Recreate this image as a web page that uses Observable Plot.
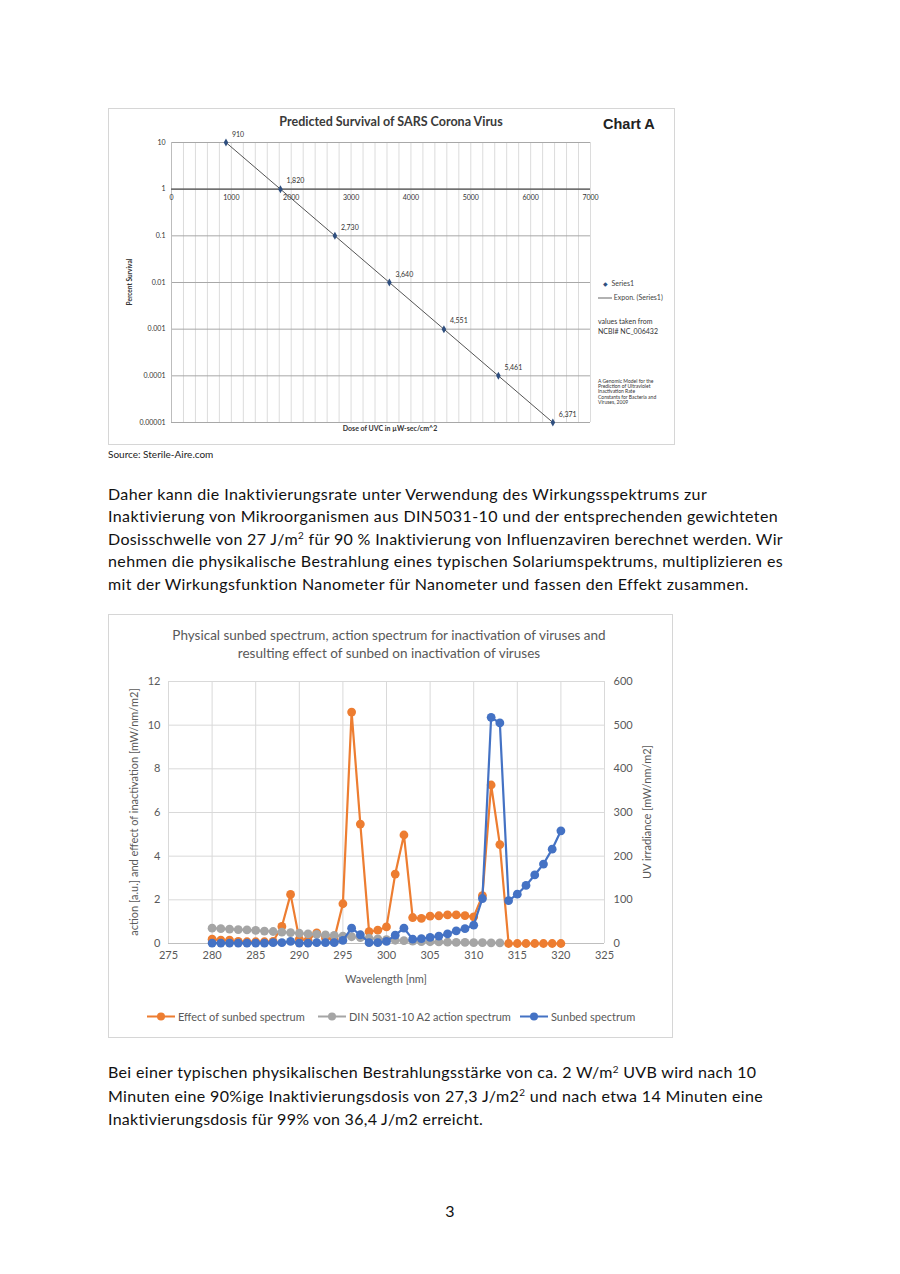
<!DOCTYPE html>
<html><head><meta charset="utf-8">
<script src="https://cdn.jsdelivr.net/npm/d3@7"></script>
<script src="https://cdn.jsdelivr.net/npm/@observablehq/plot@0.6"></script>
<style>
html,body{margin:0;padding:0;background:#fff;}
body{width:900px;height:1274px;position:relative;overflow:hidden;font-family:Lato,"Open Sans",sans-serif;}
.abs{position:absolute;white-space:nowrap;line-height:1;}
.c{transform:translate(-50%,-50%);}
.l{transform:translateY(-50%);}
.rot{transform:translate(-50%,-50%) rotate(-90deg);}
.para{position:absolute;left:108px;font-size:16px;color:#111;white-space:nowrap;}
.para .ln{display:block;}
.para .ln span{display:inline-block;}
.para sup{font-size:0.62em;vertical-align:0;position:relative;top:-0.55em;line-height:0;}
.frame{position:absolute;border:1px solid #d6d6d6;box-sizing:border-box;}
svg{display:block;}
</style></head>
<body>
<div id="frameA" class="frame" style="left:108px;top:108px;width:567px;height:337px;"></div>
<div id="chartA" class="abs" style="left:108px;top:108px;"></div>
<div class="abs c" style="left:391px;top:122px;font-weight:700;font-size:12.5px;color:#3a3a3a;">Predicted Survival of SARS Corona Virus</div>
<div class="abs l" style="left:603px;top:124px;font-family:'Liberation Sans',Arial,sans-serif;font-weight:700;font-size:14.5px;color:#222;">Chart A</div>
<div class="abs rot" style="left:130px;top:282px;font-weight:700;font-size:6.5px;color:#333;">Percent Survival</div>
<div class="abs c" style="left:390px;top:428px;font-weight:700;font-size:7px;color:#333;">Dose of UVC in µW-sec/cm^2</div>
<div class="abs l" style="left:603px;top:283px;font-size:7px;color:#444;"><span style="color:#2f4f7f;font-size:6px;">◆</span>&nbsp; Series1</div>
<div class="abs l" style="left:598px;top:297px;font-size:7px;color:#444;"><span style="display:inline-block;width:14px;height:1px;background:#666;vertical-align:middle;"></span> Expon. (Series1)</div>
<div class="abs" style="left:598px;top:316px;font-size:7px;line-height:10px;color:#333;">values taken from<br>NCBI# NC_006432</div>
<div class="abs" style="left:598px;top:379px;font-size:5px;line-height:5.2px;color:#333;">A Genomic Model for the<br>Prediction of Ultraviolet<br>Inactivation Rate<br>Constants for Bacteria and<br>Viruses, 2009</div>
<div class="abs l" style="left:108px;top:454px;font-size:10px;color:#222;">Source: Sterile-Aire.com</div>

<div class="para" style="top:483px;line-height:22.4px;">
<div class="ln" data-w="599"><span>Daher kann die Inaktivierungsrate unter Verwendung des Wirkungsspektrums zur</span></div>
<div class="ln" data-w="670"><span>Inaktivierung von Mikroorganismen aus DIN5031-10 und der entsprechenden gewichteten</span></div>
<div class="ln" data-w="675"><span>Dosisschwelle von 27 J/m<sup>2</sup> für 90 % Inaktivierung von Influenzaviren berechnet werden. Wir</span></div>
<div class="ln" data-w="675"><span>nehmen die physikalische Bestrahlung eines typischen Solariumspektrums, multiplizieren es</span></div>
<div class="ln" data-w="640"><span>mit der Wirkungsfunktion Nanometer für Nanometer und fassen den Effekt zusammen.</span></div>
</div>

<div class="frame" style="left:108px;top:614px;width:565px;height:424px;"></div>
<div class="abs c" style="left:389px;top:644px;font-size:13.5px;line-height:18px;color:#595959;text-align:center;">Physical sunbed spectrum, action spectrum for inactivation of viruses and<br>resulting effect of sunbed on inactivation of viruses</div>
<div id="chartB" class="abs" style="left:108px;top:665px;"></div>
<div class="abs rot" style="left:133px;top:812px;font-size:11px;color:#595959;">action [a.u.] and effect of inactivation [mW/nm/m2]</div>
<div class="abs rot" style="left:646px;top:812px;font-size:11px;color:#595959;">UV irradiance [mW/nm/m2]</div>
<div class="abs c" style="left:386px;top:978px;font-size:11px;color:#595959;">Wavelength [nm]</div>
<div id="legendB"></div>

<div class="para" style="top:1060px;line-height:23.5px;">
<div class="ln" data-w="648"><span>Bei einer typischen physikalischen Bestrahlungsstärke von ca. 2 W/m<sup>2</sup> UVB wird nach 10</span></div>
<div class="ln" data-w="655"><span>Minuten eine 90%ige Inaktivierungsdosis von 27,3 J/m2<sup>2</sup> und nach etwa 14 Minuten eine</span></div>
<div class="ln" data-w="375"><span>Inaktivierungsdosis für 99% von 36,4 J/m2 erreicht.</span></div>
</div>
<div class="abs c" style="left:450px;top:1211px;font-size:16px;color:#111;">3</div>

<script>
// ---------- Chart A data ----------
const doses = [910, 1820, 2730, 3640, 4551, 5461, 6371];
const survival = [10, 1, 0.1, 0.01, 0.001, 0.0001, 0.00001];
const doseLabels = ["910", "1,820", "2,730", "3,640", "4,551", "5,461", "6,371"];
const doseTicks = [0, 1000, 2000, 3000, 4000, 5000, 6000, 7000];
const survivalTicks = [10, 1, 0.1, 0.01, 0.001, 0.0001, 0.00001];
const survivalTickLabels = ["10", "1", "0.1", "0.01", "0.001", "0.0001", "0.00001"];

// ---------- Chart B data ----------
const wavelengths = [280,281,282,283,284,285,286,287,288,289,290,291,292,293,294,295,296,297,298,299,300,301,302,303,304,305,306,307,308,309,310,311,312,313,314,315,316,317,318,319,320];
const effectOfSunbed = [0.2,0.15,0.15,0.1,0.08,0.08,0.08,0.1,0.78,2.25,0.2,0.15,0.49,0.25,0.2,1.82,10.6,5.47,0.54,0.61,0.76,3.18,4.97,1.19,1.15,1.25,1.27,1.31,1.31,1.28,1.22,2.19,7.26,4.53,0,0,0,0,0,0,0];
const dinActionSpectrum = [0.70,0.68,0.66,0.64,0.62,0.60,0.57,0.55,0.52,0.50,0.47,0.44,0.42,0.39,0.37,0.34,0.31,0.27,0.24,0.21,0.18,0.15,0.13,0.11,0.09,0.08,0.07,0.06,0.05,0.05,0.04,0.04,0.03,0.03];
const sunbedSpectrum = [1,1,1,1,1,1,1,2,2,5,1,1,2,2,2,7,35,20,2,2,5,19,35,10,11,14,17,22,29,34,42,103,518,505,98,113,133,157,182,216,258];
const wavelengthTicks = [275,280,285,290,295,300,305,310,315,320,325];
const leftTicks = [0,2,4,6,8,10,12];
const rightAxisMax = 600, leftAxisMax = 12;
const seriesNames = ["Effect of sunbed spectrum", "DIN 5031-10 A2 action spectrum", "Sunbed spectrum"];
const seriesColors = ["#ED7D31", "#A5A5A5", "#4472C4"];

// fit paragraph lines to the widths of the original page
document.querySelectorAll(".para .ln").forEach(ln => {
  const span = ln.querySelector("span");
  const target = +ln.dataset.w;
  const w = span.getBoundingClientRect().width;
  const n = span.textContent.length - 1;
  span.style.letterSpacing = ((target - w) / n).toFixed(3) + "px";
});

// ---------- Chart A ----------
const ptsA = doses.map((d, i) => ({dose: d, s: survival[i], label: doseLabels[i]}));
const gridA = d3.range(0, 7001, 200);
const yLab = new Map(survivalTicks.map((t, i) => [t, survivalTickLabels[i]]));
const chartA = Plot.plot({
  width: 567, height: 336,
  marginLeft: 63, marginRight: 85, marginTop: 34, marginBottom: 22,
  x: {domain: [0, 7000], axis: null},
  y: {type: "log", domain: [0.00001, 10]},
  style: {fontFamily: "Lato, sans-serif", fontSize: "7px", color: "#333", background: "transparent"},
  marks: [
    Plot.ruleX(gridA, {x: d => d, stroke: "#dcdcdc", strokeWidth: 1}),
    Plot.ruleY(survivalTicks, {y: d => d, stroke: "#a8a8a8", strokeWidth: 1}),
    Plot.ruleX([0], {x: d => d, stroke: "#bdbdbd"}),
    Plot.ruleY([1], {y: d => d, stroke: "#555", strokeWidth: 1.3}),
    Plot.axisY(survivalTicks, {tickSize: 0, tickPadding: 6, tickFormat: d => yLab.get(d), label: null, fontSize: 7}),
    Plot.text(doseTicks, {x: d => d, y: () => 1, text: d => String(d), dy: 9, fontSize: 7, fill: "#333"}),
    Plot.line(ptsA, {x: "dose", y: "s", stroke: "#555", strokeWidth: 1}),
    Plot.dot(ptsA, {x: "dose", y: "s", symbol: "diamond", r: 2.4, fill: "#2f4f7f"}),
    Plot.text(ptsA, {x: "dose", y: "s", text: "label", textAnchor: "start", dx: 6, dy: -8, fontSize: 7, fill: "#333"})
  ]
});
document.getElementById("chartA").appendChild(chartA);

// ---------- Chart B ----------
const k = rightAxisMax / leftAxisMax;
const effRows = wavelengths.map((w, i) => ({w, v: effectOfSunbed[i]}));
const dinRows = dinActionSpectrum.map((v, i) => ({w: wavelengths[i], v}));
const sunRows = wavelengths.map((w, i) => ({w, v: sunbedSpectrum[i]}));
const chartB = Plot.plot({
  width: 564, height: 325,
  marginLeft: 60, marginRight: 68, marginTop: 16, marginBottom: 47,
  x: {domain: [275, 325]},
  y: {domain: [0, 12]},
  style: {fontFamily: "Lato, sans-serif", fontSize: "11px", color: "#595959", background: "transparent"},
  marks: [
    Plot.gridX(wavelengthTicks, {stroke: "#d9d9d9", strokeOpacity: 1}),
    Plot.gridY(leftTicks, {stroke: "#d9d9d9", strokeOpacity: 1}),
    Plot.ruleY([0], {y: d => d, stroke: "#bfbfbf"}),
    Plot.axisX(wavelengthTicks, {tickSize: 0, tickPadding: 8, label: null, fontSize: 11}),
    Plot.axisY(leftTicks, {anchor: "left", tickSize: 0, tickPadding: 8, label: null, fontSize: 11}),
    Plot.axisY(leftTicks, {anchor: "right", tickSize: 0, tickPadding: 9, label: null, fontSize: 11, tickFormat: d => String(d * k)}),
    Plot.line(effRows, {x: "w", y: "v", stroke: seriesColors[0], strokeWidth: 2.2}),
    Plot.dot(effRows, {x: "w", y: "v", fill: seriesColors[0], r: 4.4}),
    Plot.line(dinRows, {x: "w", y: "v", stroke: seriesColors[1], strokeWidth: 2.2}),
    Plot.dot(dinRows, {x: "w", y: "v", fill: seriesColors[1], r: 4.4}),
    Plot.line(sunRows, {x: "w", y: d => d.v / k, stroke: seriesColors[2], strokeWidth: 2.2}),
    Plot.dot(sunRows, {x: "w", y: d => d.v / k, fill: seriesColors[2], r: 4.4})
  ]
});
document.getElementById("chartB").appendChild(chartB);

// legend
const legendX = [147, 318, 520];
const lg = document.getElementById("legendB");
seriesNames.forEach((name, i) => {
  const d = document.createElement("div");
  d.className = "abs l";
  d.style.left = legendX[i] + "px";
  d.style.top = "1016px";
  d.style.fontSize = "11px";
  d.style.color = "#595959";
  d.style.display = "flex";
  d.style.alignItems = "center";
  d.innerHTML = `<svg width="28" height="10" style="margin-right:3px"><line x1="0" x2="28" y1="5" y2="5" stroke="${seriesColors[i]}" stroke-width="2.2"/><circle cx="14" cy="5" r="4" fill="${seriesColors[i]}"/></svg><span>${name}</span>`;
  lg.appendChild(d);
});
</script>
</body></html>
